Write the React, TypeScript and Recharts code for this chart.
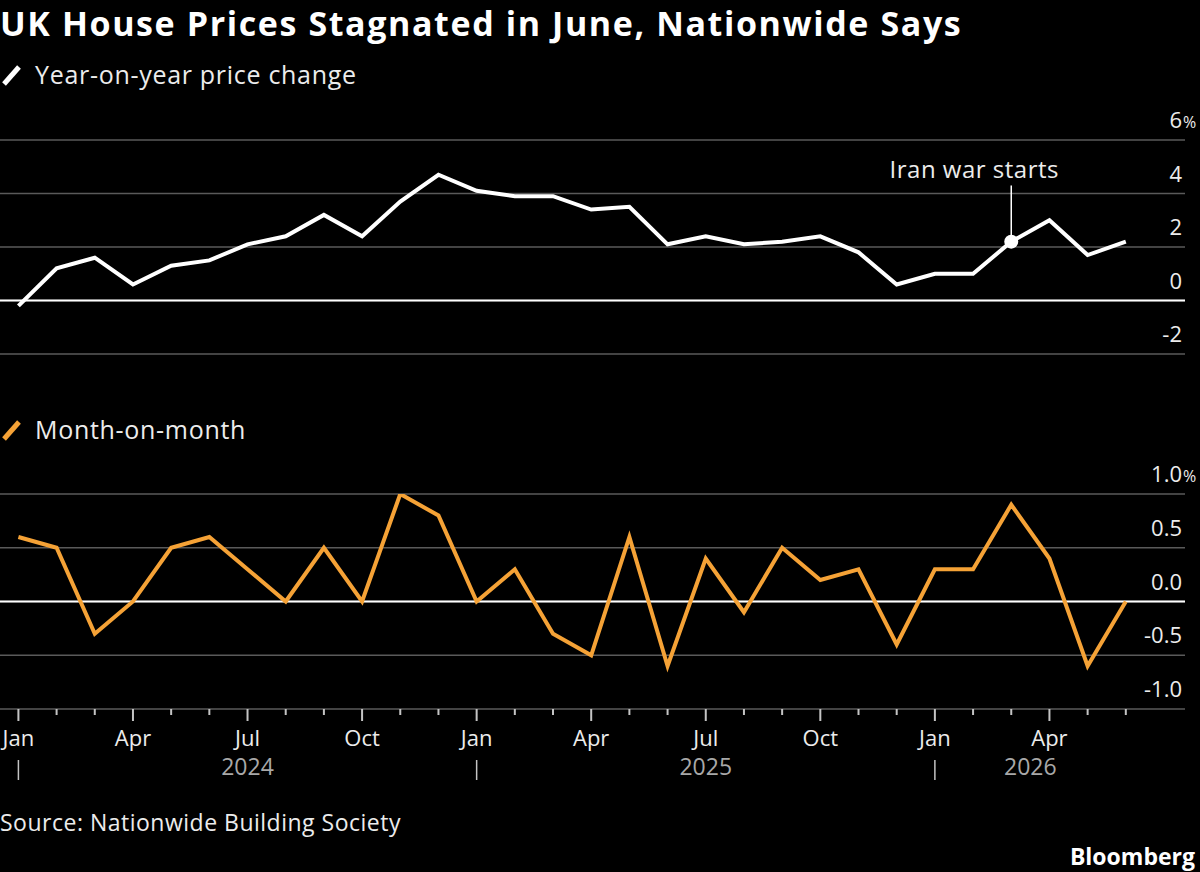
import React from 'react';
import { LineChart, Line, XAxis, YAxis, CartesianGrid, ReferenceLine, ReferenceDot } from 'recharts';

// ---------- data ----------
const dates = [
  '2024-01', '2024-02', '2024-03', '2024-04', '2024-05', '2024-06',
  '2024-07', '2024-08', '2024-09', '2024-10', '2024-11', '2024-12',
  '2025-01', '2025-02', '2025-03', '2025-04', '2025-05', '2025-06',
  '2025-07', '2025-08', '2025-09', '2025-10', '2025-11', '2025-12',
  '2026-01', '2026-02', '2026-03', '2026-04', '2026-05', '2026-06',
];
const yoyChange = [
  -0.2, 1.2, 1.6, 0.6, 1.3, 1.5, 2.1, 2.4, 3.2, 2.4, 3.7, 4.7,
  4.1, 3.9, 3.9, 3.4, 3.5, 2.1, 2.4, 2.1, 2.2, 2.4, 1.8, 0.6,
  1.0, 1.0, 2.2, 3.0, 1.7, 2.2,
];
const momChange = [
  0.6, 0.5, -0.3, 0.0, 0.5, 0.6, 0.3, 0.0, 0.5, 0.0, 1.0, 0.8,
  0.0, 0.3, -0.3, -0.5, 0.6, -0.6, 0.4, -0.1, 0.5, 0.2, 0.3, -0.4,
  0.3, 0.3, 0.9, 0.4, -0.6, 0.0,
];
const monthNames = ['Jan', 'Feb', 'Mar', 'Apr', 'May', 'Jun', 'Jul', 'Aug', 'Sep', 'Oct', 'Nov', 'Dec'];
const yoyTicks = [-2, 0, 2, 4, 6];
const momTicks = [-1, -0.5, 0, 0.5, 1];
const annotationDate = '2026-03';
const annotationText = 'Iran war starts';
const annotationTop = 4.3;

const title = 'UK House Prices Stagnated in June, Nationwide Says';
const legendYoy = 'Year-on-year price change';
const legendMom = 'Month-on-month';
const sourceText = 'Source: Nationwide Building Society';
const brand = 'Bloomberg';

// ---------- styles ----------
const FONT = '"Open Sans", Roboto, "DejaVu Sans", sans-serif';
const W = 1200;
const RIGHT_MARGIN = 14;
const PLOT_RIGHT = 1185;
const X_DOMAIN: [number, number] = [-0.482, 30.55];
const GRID = '#5a5a5a';
const ORANGE = '#F5A236';
const TEXT = '#ececec';
const MUTED = '#a8a8a8';
const TICK = '#c4c4c4';

const data = dates.map((d, i) => ({ i, date: d, yoy: yoyChange[i], mom: momChange[i] }));
const monthTicks = dates.map((_, i) => i);

// year label centres (midpoint between first month of year and first month of next year / last month)
const years = Array.from(new Set(dates.map((d) => d.slice(0, 4))));
const yearCenters = years.map((y, k) => {
  const first = dates.findIndex((d) => d.startsWith(y));
  const next = k < years.length - 1 ? dates.findIndex((d) => d.startsWith(years[k + 1])) : dates.length - 1;
  return (first + next) / 2;
});

const annIndex = dates.indexOf(annotationDate);

const makeYTick = (topValue: number, digits: number) => (props: any) => {
  const { y, payload } = props;
  const v = payload.value as number;
  const txt = v.toFixed(digits);
  return (
    <g>
      <text x={PLOT_RIGHT - 3} y={y - 12} textAnchor="end" fill={TEXT} fontSize={22} fontFamily={FONT}>
        {txt}
      </text>
      {v === topValue && (
        <text x={PLOT_RIGHT - 2} y={y - 12} textAnchor="start" fill={TEXT} fontSize={16} fontFamily={FONT}>
          %
        </text>
      )}
    </g>
  );
};

const MonthTick = (props: any) => {
  const { x, y, payload } = props;
  const idx = Math.round(payload.value as number);
  const d = dates[idx];
  if (!d) return null;
  const m = Number(d.slice(5, 7));
  const major = (m - 1) % 3 === 0;
  return (
    <g>
      <line x1={x} x2={x} y1={y} y2={y + (major ? 12 : 6)} stroke={TICK} strokeWidth={2} />
      {major && (
        <text x={x} y={y + 37} textAnchor="middle" fill={TEXT} fontSize={22} fontFamily={FONT}>
          {monthNames[m - 1]}
        </text>
      )}
      {m === 1 && <line x1={x} x2={x} y1={y + 51} y2={y + 71} stroke={TICK} strokeWidth={1.5} />}
    </g>
  );
};

const YearTick = (props: any) => {
  const { x, y, payload } = props;
  const k = yearCenters.indexOf(payload.value as number);
  if (k < 0) return null;
  return (
    <text x={x} y={y + 16} textAnchor="middle" fill={MUTED} fontSize={23} fontFamily={FONT}>
      {years[k]}
    </text>
  );
};

const AnnotationText = (props: any) => {
  const { cx, cy } = props;
  return (
    <text
      x={cx - 37}
      y={cy - 7}
      textAnchor="middle"
      fill={TEXT}
      fontSize={24}
      letterSpacing={0.5}
      fontFamily={FONT}
    >
      {annotationText}
    </text>
  );
};

export default function App() {
  return (
    <div
      style={{
        position: 'absolute',
        left: 0,
        top: 0,
        width: 1200,
        height: 872,
        background: '#000',
        overflow: 'hidden',
        fontFamily: FONT,
      }}
    >
      {/* Top panel */}
      <div style={{ position: 'absolute', left: 0, top: 0 }}>
        <LineChart width={W} height={360} data={data} margin={{ top: 140, right: RIGHT_MARGIN, bottom: 6, left: 0 }}>
          <CartesianGrid vertical={false} stroke={GRID} strokeWidth={1.5} />
          <XAxis dataKey="i" type="number" domain={X_DOMAIN} ticks={monthTicks} hide allowDataOverflow />
          <YAxis
            orientation="right"
            domain={[-2, 6]}
            ticks={yoyTicks}
            width={1}
            axisLine={false}
            tickLine={false}
            tick={makeYTick(6, 0)}
            interval={0}
            allowDataOverflow
          />
          <ReferenceLine y={0} stroke="#ffffff" strokeWidth={2} />
          <ReferenceLine
            segment={[
              { x: annIndex, y: yoyChange[annIndex] },
              { x: annIndex, y: annotationTop },
            ]}
            stroke="#ffffff"
            strokeWidth={1.5}
          />
          <Line
            dataKey="yoy"
            stroke="#ffffff"
            strokeWidth={4}
            dot={false}
            isAnimationActive={false}
          />
          <ReferenceDot x={annIndex} y={yoyChange[annIndex]} r={7} fill="#ffffff" stroke="none" />
          <ReferenceDot x={annIndex} y={annotationTop} r={0} shape={AnnotationText} />
        </LineChart>
      </div>

      {/* Bottom panel */}
      <div style={{ position: 'absolute', left: 0, top: 440 }}>
        <LineChart width={W} height={360} data={data} margin={{ top: 54, right: RIGHT_MARGIN, bottom: 11, left: 0 }}>
          <CartesianGrid vertical={false} stroke={GRID} strokeWidth={1.5} />
          <XAxis
            dataKey="i"
            type="number"
            domain={X_DOMAIN}
            ticks={monthTicks}
            interval={0}
            axisLine={false}
            tickLine={false}
            tickSize={0}
            tickMargin={0}
            height={50}
            tick={MonthTick}
            allowDataOverflow
          />
          <XAxis
            xAxisId="yr"
            dataKey="i"
            type="number"
            domain={X_DOMAIN}
            ticks={yearCenters}
            interval={0}
            axisLine={false}
            tickLine={false}
            tickSize={0}
            tickMargin={0}
            height={30}
            tick={YearTick}
            allowDataOverflow
          />
          <YAxis
            orientation="right"
            domain={[-1, 1]}
            ticks={momTicks}
            width={1}
            axisLine={false}
            tickLine={false}
            tick={makeYTick(1, 1)}
            interval={0}
            allowDataOverflow
          />
          <ReferenceLine y={0} stroke="#ffffff" strokeWidth={2} />
          <Line dataKey="mom" stroke={ORANGE} strokeWidth={4} dot={false} isAnimationActive={false} />
        </LineChart>
      </div>

      {/* Static texts */}
      <svg width={1200} height={872} style={{ position: 'absolute', left: 0, top: 0, pointerEvents: 'none' }}>
        <text x={0} y={36} fill="#ffffff" fontSize={34} fontWeight={700} letterSpacing={1.6} fontFamily={FONT}>
          {title}
        </text>
        <line x1={4} y1={84} x2={19} y2={67} stroke="#ffffff" strokeWidth={5} />
        <text x={35} y={84} fill={TEXT} fontSize={25} letterSpacing={0.7} fontFamily={FONT}>
          {legendYoy}
        </text>
        <line x1={4} y1={439} x2={19} y2={422} stroke={ORANGE} strokeWidth={5} />
        <text x={35} y={439} fill={TEXT} fontSize={25} letterSpacing={0.7} fontFamily={FONT}>
          {legendMom}
        </text>
        <text x={0} y={831} fill={TEXT} fontSize={23} letterSpacing={0.5} fontFamily={FONT}>
          {sourceText}
        </text>
        <text x={1195} y={865} textAnchor="end" fill="#ffffff" fontSize={23} fontWeight={700} fontFamily={FONT}>
          {brand}
        </text>
      </svg>
    </div>
  );
}
